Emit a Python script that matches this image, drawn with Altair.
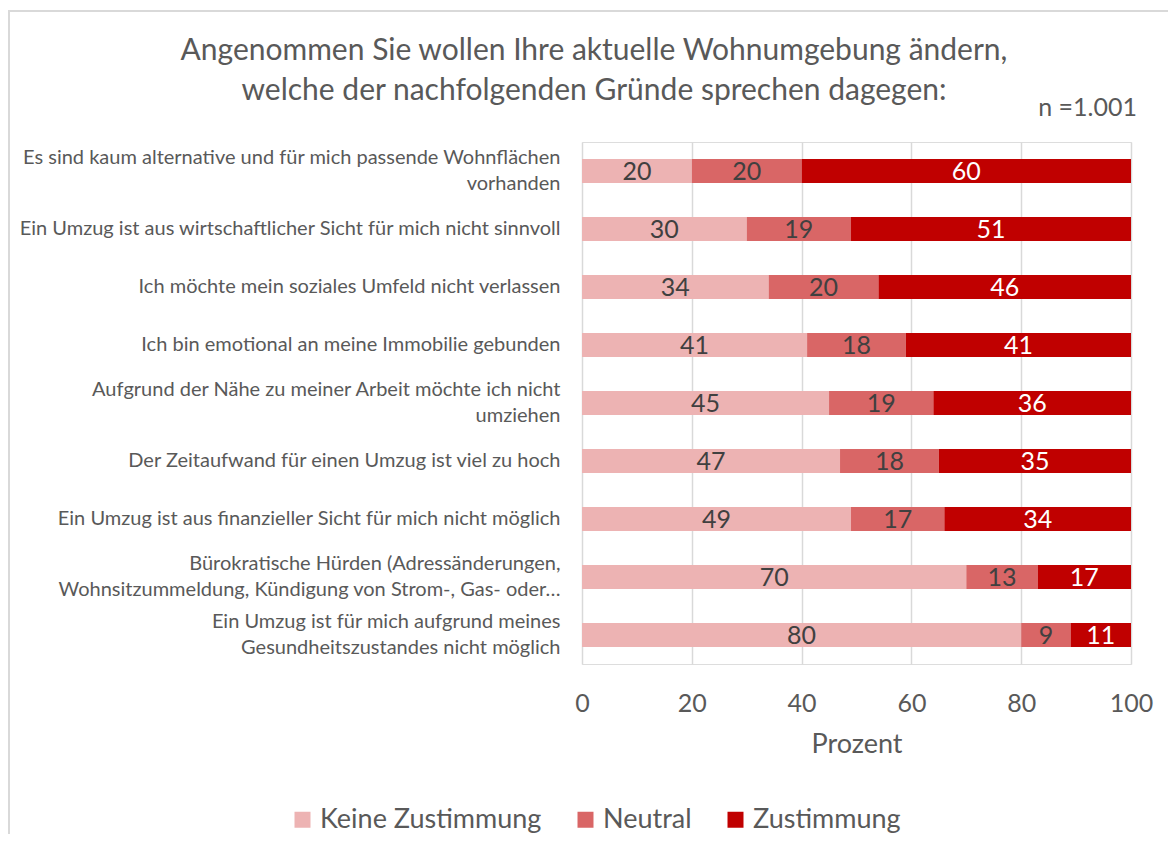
import altair as alt
import pandas as pd

categories = [
    "Es sind kaum alternative und für mich passende Wohnflächen|vorhanden",
    "Ein Umzug ist aus wirtschaftlicher Sicht für mich nicht sinnvoll",
    "Ich möchte mein soziales Umfeld nicht verlassen",
    "Ich bin emotional an meine Immobilie gebunden",
    "Aufgrund der Nähe zu meiner Arbeit möchte ich nicht|umziehen",
    "Der Zeitaufwand für einen Umzug ist viel zu hoch",
    "Ein Umzug ist aus finanzieller Sicht für mich nicht möglich",
    "Bürokratische Hürden (Adressänderungen,|Wohnsitzummeldung, Kündigung von Strom-, Gas- oder…",
    "Ein Umzug ist für mich aufgrund meines|Gesundheitszustandes nicht möglich",
]
series = ["Keine Zustimmung", "Neutral", "Zustimmung"]
keine = [20, 30, 34, 41, 45, 47, 49, 70, 80]
neutral = [20, 19, 20, 18, 19, 18, 17, 13, 9]
zustimmung = [60, 51, 46, 41, 36, 35, 34, 17, 11]
colors = ["#EDB3B3", "#D96666", "#C00000"]
text_colors = ["#404040", "#404040", "#FFFFFF"]
x_ticks = [0, 20, 40, 60, 80, 100]
title_lines = ["Angenommen Sie wollen Ihre aktuelle Wohnumgebung ändern,",
               "welche der nachfolgenden Gründe sprechen dagegen:"]
n_label = "n =1.001"

rows = []
for i, cat in enumerate(categories):
    for k, vals in enumerate([keine, neutral, zustimmung]):
        rows.append({"category": cat, "series": series[k], "value": vals[i],
                     "order": k, "tc": text_colors[k]})
df = pd.DataFrame(rows)

FONT = "Lato"
GREY = "#595959"

base = alt.Chart(df)

y_enc = alt.Y(
    "category:N", sort=categories, title=None,
    scale=alt.Scale(paddingInner=0.586, paddingOuter=0.293),
    axis=alt.Axis(labelExpr="split(datum.label, '|')", labelFontSize=20,
                  labelColor=GREY, labelPadding=22, labelLimit=0,
                  labelLineHeight=26, ticks=False, domain=False, grid=False,
                  labelFont=FONT,
                  labelOffset=alt.condition("indexof(datum.value, '|') >= 0",
                                            alt.value(-13), alt.value(0))),
)

bars = base.mark_bar(size=24).encode(
    y=y_enc,
    x=alt.X("value:Q", stack="zero", title="Prozent",
            scale=alt.Scale(domain=[0, 100], nice=False),
            axis=alt.Axis(values=x_ticks, grid=True, gridColor="#D9D9D9",
                          gridWidth=1.5, domain=False, ticks=False,
                          labelFlush=False,
                          labelFontSize=25, labelColor=GREY, labelPadding=27,
                          titleFontSize=27, titleColor=GREY,
                          titleFontWeight="normal", titlePadding=15,
                          labelFont=FONT, titleFont=FONT)),
    color=alt.Color("series:N", scale=alt.Scale(domain=series, range=colors),
                    legend=alt.Legend(title=None, orient="none",
                                      direction="horizontal",
                                      legendX=-293, legendY=664,
                                      symbolType="square", symbolSize=256,
                                      symbolStrokeWidth=0,
                                      labelFontSize=27, labelColor=GREY,
                                      labelFont=FONT, labelLimit=0,
                                      columnPadding=30, labelOffset=4)),
    order=alt.Order("order:Q"),
)

labels = base.transform_stack(
    stack="value", groupby=["category"], as_=["x0", "x1"],
    sort=[alt.SortField("order", order="ascending")],
).transform_calculate(mid="(datum.x0 + datum.x1) / 2").mark_text(
    fontSize=25, font=FONT, baseline="middle", align="center", dy=1
).encode(
    y=alt.Y("category:N", sort=categories),
    x=alt.X("mid:Q"),
    text=alt.Text("value:Q"),
    fill=alt.Fill("tc:N", scale=None),
)

one = alt.Chart(pd.DataFrame({"a": [0]}))
title_text = one.mark_text(text=title_lines, fontSize=30, font=FONT,
                           color=GREY, align="center", baseline="alphabetic",
                           lineHeight=40).encode(
    x=alt.value(12), y=alt.value(-82))
n_text = one.mark_text(text=n_label, fontSize=25, font=FONT, color=GREY,
                       align="right", baseline="middle").encode(
    x=alt.value(555), y=alt.value(-34))
border_top = one.mark_rule(color="#D9D9D9", strokeWidth=2).encode(
    x=alt.value(-574), x2=alt.value(700), y=alt.value(-131))
border_left = one.mark_rule(color="#D9D9D9", strokeWidth=2).encode(
    x=alt.value(-573), y=alt.value(-131), y2=alt.value(800))

chart = alt.layer(border_top, border_left, bars, labels, title_text,
                  n_text).properties(
    width=549, height=522,
    padding={"left": 574, "top": 134, "right": 37, "bottom": 170},
    autosize=alt.AutoSizeParams(type="none"),
).configure_view(stroke=None).configure(font=FONT)

chart.save("out.html", embed_options={"renderer": "svg", "actions": False})
